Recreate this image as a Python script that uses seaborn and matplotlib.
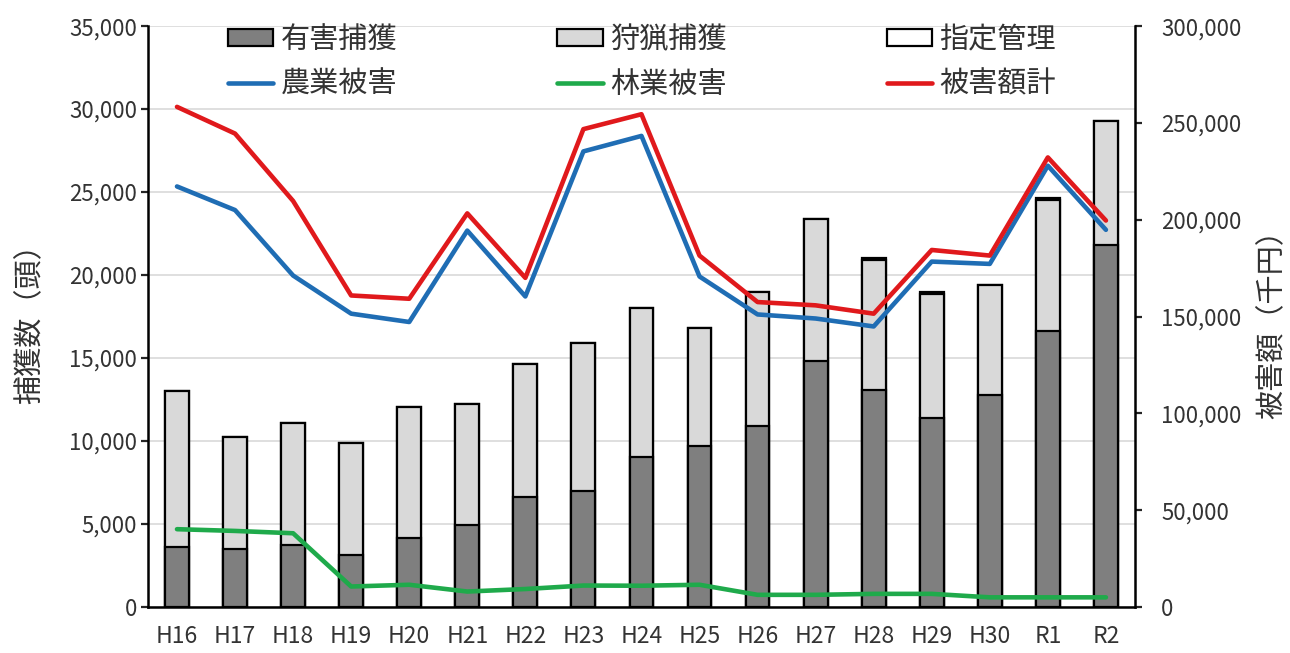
import numpy as np
import pandas as pd
import seaborn as sns
import matplotlib
matplotlib.use('Agg')
import matplotlib.pyplot as plt
from matplotlib.ticker import FuncFormatter
from matplotlib.patches import Patch
from matplotlib.lines import Line2D

years = ['H16', 'H17', 'H18', 'H19', 'H20', 'H21', 'H22', 'H23', 'H24',
         'H25', 'H26', 'H27', 'H28', 'H29', 'H30', 'R1', 'R2']

# 捕獲数（頭）
yugai = [3600, 3500, 3760, 3140, 4170, 4970, 6640, 7020, 9030,
         9700, 10900, 14830, 13080, 11370, 12760, 16640, 21800]
shuryo = [9400, 6770, 7350, 6720, 7910, 7290, 7990, 8860, 8980,
          7110, 8060, 8570, 7820, 7510, 6640, 7910, 7500]
shitei = [0, 0, 0, 0, 0, 0, 0, 0, 0,
          0, 0, 0, 120, 80, 0, 120, 0]

# 被害額（千円）
agri = [217200, 205000, 171200, 151500, 147200, 194400, 160400, 235300, 243300,
        170700, 151100, 149000, 144900, 178400, 177200, 227900, 194800]
forest = [40200, 39300, 38100, 10600, 11500, 8000, 9300, 11100, 11000,
          11500, 6300, 6300, 6800, 6800, 5000, 5000, 5000]
damage_total = [258300, 244500, 209700, 160900, 159200, 203300, 170000, 246800, 254500,
                181500, 157500, 155800, 151500, 184400, 181500, 232200, 199600]

df = pd.DataFrame({'year': years, 'yugai': yugai, 'shuryo': shuryo, 'shitei': shitei,
                   'agri': agri, 'forest': forest, 'total': damage_total})
df['lvl2'] = df['yugai'] + df['shuryo']
df['lvl3'] = df['lvl2'] + df['shitei']

sns.set_style('white')
plt.rcParams['font.family'] = ['Noto Sans CJK JP', 'DejaVu Sans']

c_dark = '#7f7f7f'
c_light = '#d9d9d9'
c_blue = '#1f6db4'
c_green = '#1faa4b'
c_red = '#e0191c'
txt = '#333333'

fig = plt.figure(figsize=(12.9, 6.53), dpi=100)
ax = fig.add_axes([0.1147, 0.0704, 0.7651, 0.8896])

#stacked bars: draw the tallest layer first, then overlay the lower ones
for col, colr in [('lvl3', 'white'), ('lvl2', c_light), ('yugai', c_dark)]:
    sns.barplot(data=df, x='year', y=col, color=colr, saturation=1, width=0.41,
                edgecolor='black', linewidth=1.6, ax=ax)

n = len(years)
ax.set_xlim(-0.5, n - 0.5)
ax.set_ylim(0, 35000)
ax.set_yticks(np.arange(0, 35001, 5000))
ax.yaxis.set_major_formatter(FuncFormatter(lambda v, p: f'{int(v):,}'))
ax.grid(axis='y', color='#d9d9d9', linewidth=1.2)
ax.set_axisbelow(True)
ax.set_xlabel('')
ax.set_ylabel('捕獲数（頭）', fontsize=21, color=txt, labelpad=17)
ax.tick_params(axis='x', which='major', length=0, labelsize=16.5, labelcolor=txt, pad=13)
ax.set_xticks(np.arange(-0.5, n, 1.0), minor=True)
ax.tick_params(axis='x', which='minor', length=7, width=1.6, direction='out', color='black')
ax.tick_params(axis='y', length=5, width=1.6, direction='out', labelsize=16, labelcolor=txt, pad=3)
for s in ['top', 'right']:
    ax.spines[s].set_visible(False)
for s in ['left', 'bottom']:
    ax.spines[s].set_linewidth(1.8)
    ax.spines[s].set_color('black')

ax2 = ax.twinx()
xs = np.arange(n)
sns.lineplot(x=xs, y=df['agri'], color=c_blue, linewidth=3.3, ax=ax2)
sns.lineplot(x=xs, y=df['forest'], color=c_green, linewidth=3.3, ax=ax2)
sns.lineplot(x=xs, y=df['total'], color=c_red, linewidth=3.3, ax=ax2)
ax2.set_ylim(0, 300000)
ax2.set_yticks(np.arange(0, 300001, 50000))
ax2.yaxis.set_major_formatter(FuncFormatter(lambda v, p: f'{int(v):,}'))
ax2.set_ylabel('被害額（千円）', fontsize=21, color=txt, rotation=90, labelpad=11)
ax2.tick_params(axis='y', length=5, width=1.6, direction='out', labelsize=16, labelcolor=txt, pad=14)
for s in ['top', 'left', 'bottom']:
    ax2.spines[s].set_visible(False)
ax2.spines['right'].set_linewidth(1.8)
ax2.spines['right'].set_color('black')
ax2.grid(False)

handles = [
    Patch(facecolor=c_dark, edgecolor='black', linewidth=1.6, label='有害捕獲'),
    Line2D([], [], color=c_blue, linewidth=3.3, label='農業被害'),
    Patch(facecolor=c_light, edgecolor='black', linewidth=1.6, label='狩猟捕獲'),
    Line2D([], [], color=c_green, linewidth=3.3, label='林業被害'),
    Patch(facecolor='white', edgecolor='black', linewidth=1.6, label='指定管理'),
    Line2D([], [], color=c_red, linewidth=3.3, label='被害額計'),
]
leg = ax2.legend(handles=handles, ncol=3, loc='upper left', bbox_to_anchor=(0.081, 1.002),
                 frameon=False, fontsize=21, handlelength=1.55, handleheight=0.55,
                 handletextpad=0.25, columnspacing=5.5, labelspacing=0.5,
                 borderpad=0, borderaxespad=0)
for t in leg.get_texts():
    t.set_color(txt)

plt.savefig('out.png', dpi=100)
